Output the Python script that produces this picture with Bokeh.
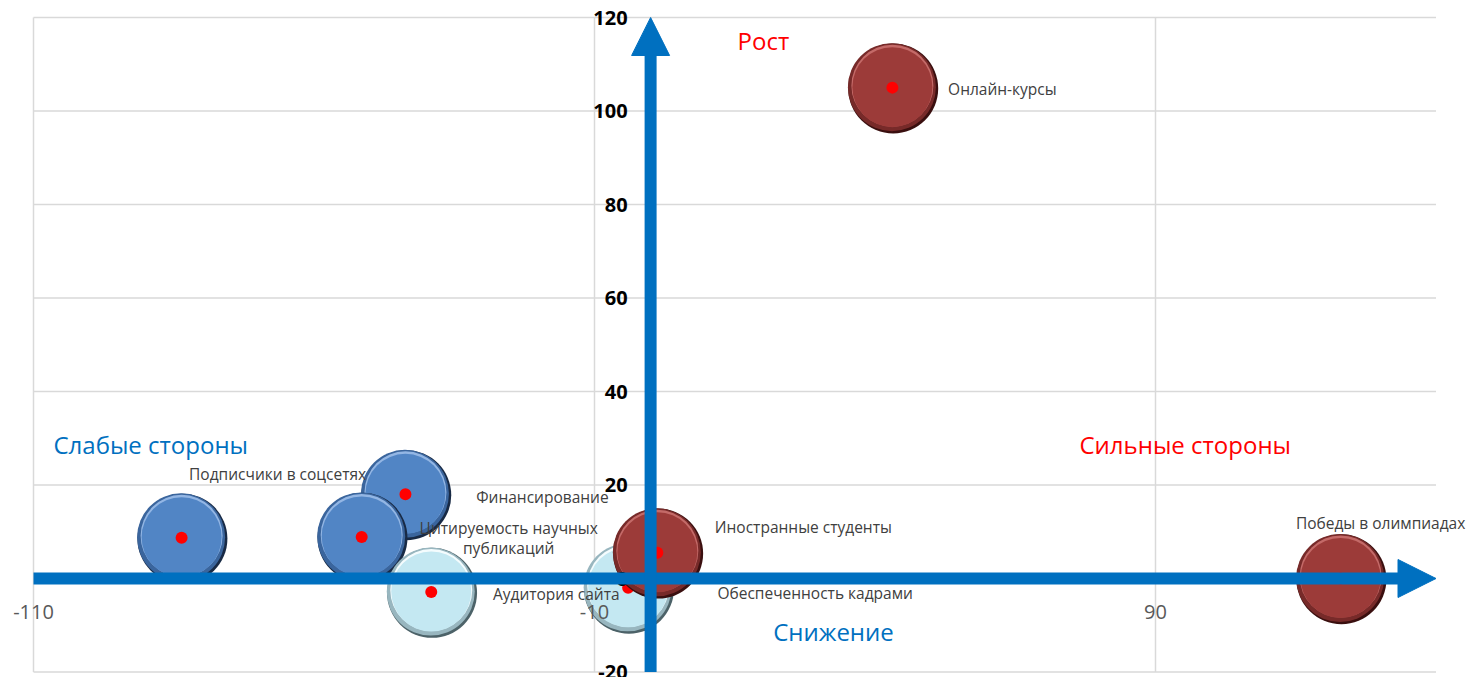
import numpy as np
from bokeh.plotting import figure
from bokeh.models import ColumnDataSource, Range1d, Arrow, NormalHead
from bokeh.embed import file_html
from bokeh.resources import INLINE
from bokeh.core.properties import value

# ---------------- data ----------------
names = ["Подписчики в соцсетях", "Финансирование", "Цитируемость научных\nпубликаций",
         "Аудитория сайта", "Обеспеченность кадрами", "Иностранные студенты",
         "Онлайн-курсы", "Победы в олимпиадах"]
x_vals = [-83.6, -43.7, -51.5, -39.1, -4.0, 1.2, 43.1, 123.0]
y_vals = [8.7, 18.0, 8.9, -2.9, -2.0, 5.5, 105.0, 0.0]
sizes = [10, 10, 10, 10, 10, 10, 10, 10]
groups = ["weak", "weak", "weak", "neutral", "neutral", "strong", "strong", "strong"]

x_ticks = [-110, -10, 90]
x_tick_labels = ["-110", "-10", "90"]
y_ticks = [-20, 0, 20, 40, 60, 80, 100, 120]
y_tick_labels = ["-20", "0", "20", "40", "60", "80", "100", "120"]
X_MIN, X_MAX, Y_MIN, Y_MAX = -110, 140, -20, 120

quad_text = ["Рост", "Снижение", "Слабые стороны", "Сильные стороны"]
quad_x = [20.1, 32.6, -89.1, 95.3]
quad_y = [115.0, -11.3, 28.7, 28.7]
quad_color = ["#ff0000", "#0070c0", "#0070c0", "#ff0000"]

# ---------------- layout / style ----------------
W, H = 1468, 677
PX_X = 5.61     # pixels per x unit
PX_Y = 4.675    # pixels per y unit
x0 = X_MIN - 33 / PX_X
y1 = Y_MAX + 17 / PX_Y
x_range = Range1d(x0, x0 + W / PX_X)
y_range = Range1d(y1 - H / PX_Y, y1)

# label offsets in screen px (dx right, dy down)
label_offsets = [(96, -64), (137, 3), (147, 1), (125, 2), (187, 5), (146, -26), (110, 1), (40, -56)]

palette = {
    "weak":    dict(edge="#182a45", mid="#3a659d", hi="#93b6e4", main="#5185c5"),
    "neutral": dict(edge="#4c6268", mid="#98b6bf", hi="#f4fcfe", main="#c4e8f2"),
    "strong":  dict(edge="#3a0f0f", mid="#772a29", hi="#c46a68", main="#9c3b39"),
}
AXIS_BLUE = "#0070c0"
GRID = "#d9d9d9"
FONT = "Open Sans"

p = figure(width=W, height=H, x_range=x_range, y_range=y_range, min_border=0,
           toolbar_location=None, output_backend="svg",
           x_axis_location=None, y_axis_location=None, outline_line_color=None,
           background_fill_color="white", border_fill_color="white")
p.xgrid.visible = False
p.ygrid.visible = False

# gridlines
p.segment(x0=[X_MIN] * len(y_ticks), x1=[X_MAX] * len(y_ticks), y0=y_ticks, y1=y_ticks,
          line_color=GRID, line_width=1.5)
p.segment(x0=x_ticks, x1=x_ticks, y0=[Y_MIN] * len(x_ticks), y1=[Y_MAX] * len(x_ticks),
          line_color=GRID, line_width=1.5)

# axis arrows
head = dict(size=38, fill_color=AXIS_BLUE, line_color=AXIS_BLUE, line_width=1)
p.add_layout(Arrow(end=NormalHead(**head), x_start=X_MIN, y_start=0, x_end=X_MAX, y_end=0,
                   line_color=AXIS_BLUE, line_width=12))
p.add_layout(Arrow(end=NormalHead(**head), x_start=0, y_start=Y_MIN, x_end=0, y_end=Y_MAX,
                   line_color=AXIS_BLUE, line_width=12))

# bubbles (layered discs for a bevelled look); layer = (colour key, diameter delta, dx px, dy px up)
layers = [("edge", 0, 0.8, -0.8), ("mid", -2, -0.5, 0.5), ("hi", -8, 0.0, 2.0), ("main", -10, 0.0, 0.5)]
dxu = 1 / PX_X
dyu = 1 / PX_Y
smax = max(sizes)
for i in range(len(names)):
    c = palette[groups[i]]
    d = 90 * np.sqrt(sizes[i] / smax)
    x, y = x_vals[i], y_vals[i]
    for key, dd, ox, oy in layers:
        p.scatter(x=[x + ox * dxu], y=[y + oy * dyu], size=d + dd, fill_color=c[key], line_color=None)
    p.scatter(x=[x], y=[y], size=12, fill_color="#ff0000", line_color=None)

# data labels
lab = ColumnDataSource(dict(x=x_vals, y=y_vals, t=names,
                            dx=[o[0] for o in label_offsets], dy=[o[1] for o in label_offsets]))
p.text(x="x", y="y", text="t", source=lab, x_offset="dx", y_offset="dy",
       text_align="center", text_baseline="middle", text_font=value(FONT),
       text_font_size="15.5px", text_color="#404040", text_line_height=0.9)

# quadrant labels
p.text(x=quad_x, y=quad_y, text=quad_text, text_color=quad_color,
       text_align="center", text_baseline="middle", text_font=value(FONT), text_font_size="24px")

# tick labels
p.text(x=[0] * len(y_ticks), y=y_ticks, text=y_tick_labels, x_offset=-23,
       text_align="right", text_baseline="middle", text_font=value(FONT),
       text_font_size="20px", text_font_style="bold", text_color="black")
p.text(x=x_ticks, y=[0] * len(x_ticks), text=x_tick_labels, y_offset=33,
       text_align="center", text_baseline="middle", text_font=value(FONT),
       text_font_size="20px", text_color="#595959")

open("out.html", "w").write(file_html(p, INLINE))
